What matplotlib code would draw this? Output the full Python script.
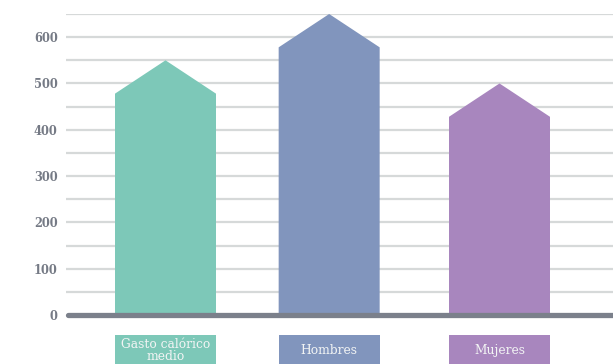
import matplotlib
matplotlib.use("Agg")
import matplotlib.pyplot as plt
from matplotlib.patches import Polygon, Rectangle

categories = ["Gasto calórico\nmedio", "Hombres", "Mujeres"]
values = [550, 650, 500]
colors = ["#7dc8b8", "#8195bd", "#a886be"]
yticks = [0, 100, 200, 300, 400, 500, 600]
grid_vals = list(range(50, 700, 50))

W, H = 613, 364
fig = plt.figure(figsize=(W / 100, H / 100), dpi=100)
left_px, right_px = 66, 613
bottom_px, top_px = 315, 14
ax = fig.add_axes([left_px / W, (H - bottom_px) / H,
                   (right_px - left_px) / W, (bottom_px - top_px) / H])

px_per_unit = 167.0
c0 = 165.5
xmin = (left_px - c0) / px_per_unit
xmax = (right_px - c0) / px_per_unit
ax.set_xlim(xmin, xmax)
ax.set_ylim(0, 650)
x_pos = [0, 0.98, 2.0]

for g in grid_vals:
    ax.axhline(g, color="#d6d9d9", lw=1.6, zorder=0)

bw = 101 / px_per_unit
head = 72
for x, v, c, lab in zip(x_pos, values, colors, categories):
    pts = [(x - bw / 2, 0), (x - bw / 2, v - head), (x, v),
           (x + bw / 2, v - head), (x + bw / 2, 0)]
    ax.add_patch(Polygon(pts, closed=True, facecolor=c, edgecolor="none", zorder=2))
    ax.add_patch(Rectangle((x - bw / 2, -130), bw, 87, facecolor=c,
                           edgecolor="none", clip_on=False, zorder=2))
    ax.text(x, -76, lab, ha="center", va="center", fontsize=8.8,
            family="DejaVu Serif", color="#f2f4f4", linespacing=0.92,
            zorder=3, clip_on=False)

ax.plot([xmin + 0.012, xmax + 0.05], [0, 0], color="#7b808b", lw=3.8,
        solid_capstyle="round", clip_on=False, zorder=4)

ax.set_yticks(yticks)
ax.set_yticklabels([str(t) for t in yticks], family="DejaVu Serif",
                   fontsize=8.3, fontweight="bold", color="#757a85")
ax.tick_params(axis="y", length=0, pad=6)
ax.set_xticks([])
for s in ax.spines.values():
    s.set_visible(False)
ax.patch.set_alpha(0)

fig.savefig("out.png", dpi=100)
